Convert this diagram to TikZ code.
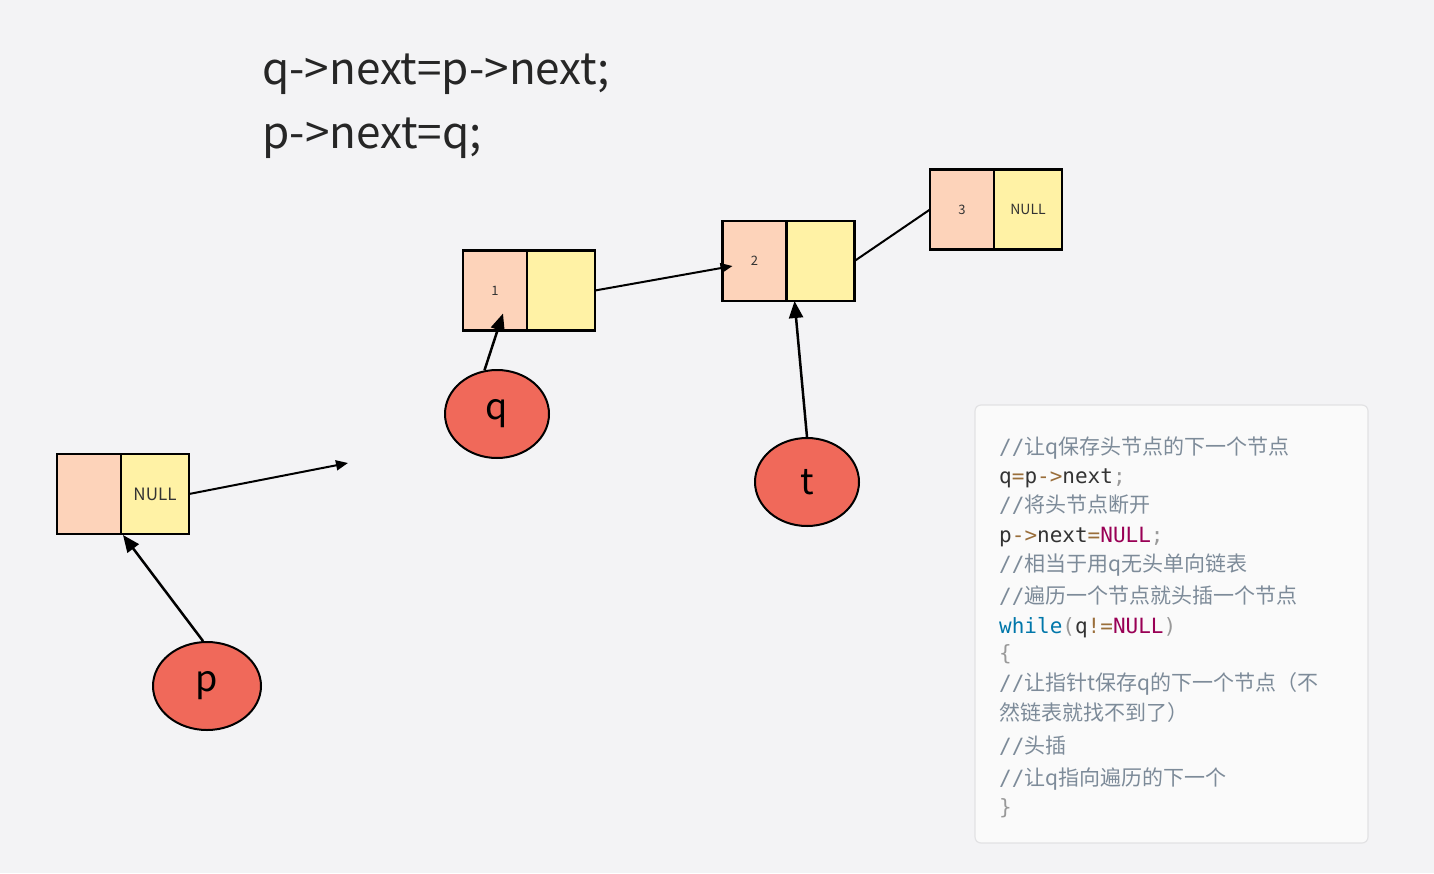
\documentclass[tikz,border=0pt]{standalone}
\usepackage{fontspec}
\setmainfont{Noto Sans CJK SC}
\setmonofont{DejaVu Sans Mono}
\usetikzlibrary{arrows.meta, positioning, shapes.geometric, calc}
\usepackage{xcolor}
\definecolor{fundo}{HTML}{F3F3F5}
\definecolor{pessego}{HTML}{FDD3BA}
\definecolor{amarelo}{HTML}{FFF2A5}
\definecolor{vermelho}{HTML}{F0695A}
\definecolor{caixaCod}{HTML}{FAFAFA}
\definecolor{bordaCod}{HTML}{E2E2E4}
\definecolor{comentario}{HTML}{7D8B99}
\definecolor{operador}{HTML}{9A6E3A}
\definecolor{constante}{HTML}{990055}
\definecolor{palavra}{HTML}{0077AA}
\definecolor{pontuacao}{HTML}{999999}
\definecolor{texto}{HTML}{333333}
\newcommand{\coment}[1]{{\color{comentario}\ttfamily //\rmfamily #1}}
\newcommand{\op}[1]{{\color{operador}#1}}
\newcommand{\cte}[1]{{\color{constante}#1}}
\newcommand{\pont}[1]{{\color{pontuacao}#1}}

\begin{document}
\begin{tikzpicture}[
    x=1pt, y=-1pt,
    celula/.style={
        draw=black,
        line width=2.5pt,
        minimum height=80,
        outer sep=0pt,
        inner sep=0pt,
        text=texto,
        font=\fontsize{13}{15}\selectfont
    },
    celulaD/.style={celula, fill=pessego, minimum width=64},
    celulaP/.style={celula, fill=amarelo, minimum width=68},
    circulo/.style={
        ellipse,
        draw=black,
        line width=2pt,
        fill=vermelho,
        minimum width=104,
        minimum height=88,
        font=\fontsize{36}{40}\selectfont
    },
    seta/.style={
        -{Triangle[length=12pt,width=10pt]},
        line width=2pt
    },
    ponteiro/.style={
        -{Triangle[length=17pt,width=14pt]},
        line width=2.5pt
    },
    linha/.style={
        anchor=base west,
        inner sep=0pt,
        text=texto,
        font=\ttfamily\fontsize{21}{24}\selectfont
    }
]

\fill[fundo] (0,0) rectangle (1434,873);
\useasboundingbox (0,0) rectangle (1434,873);

% =================================================
% CODIGO NO TOPO
% =================================================

\node[anchor=base west, inner sep=0pt, text=black!85,
    font=\fontsize{44}{50}\selectfont] (titulo1) at (262,84)
{q->next=p->next;};

\node[anchor=base west, inner sep=0pt, text=black!85,
    font=\fontsize{44}{50}\selectfont] (titulo2) at (262,148)
{p->next=q;};

% =================================================
% LISTA
% =================================================

\node[celulaD] (d0) at (89,494) {};
\node[celulaP, right=0pt of d0, font=\fontsize{17}{20}\selectfont] (p0) {NULL};

\node[celulaD] (d1) at (495,290.5) {1};
\node[celulaP, right=0pt of d1] (p1) {};

\node[celulaD] (d2) at (754.5,261) {2};
\node[celulaP, right=0pt of d2] (p2) {};

\node[celulaD] (d3) at (962,209.5) {3};
\node[celulaP, right=0pt of d3, font=\fontsize{14}{16}\selectfont] (p3) {NULL};

\coordinate (fim0) at (348,463);

\draw[seta] (p0.east) -- (fim0);
\draw[seta] (p1.east) -- ($(d2.west)+(10,5)$);
\draw[line width=2pt] (p2.east) -- (d3.west);

% =================================================
% PONTEIROS
% =================================================

\node[circulo] (q) at (497,414) {q};
\node[circulo] (t) at (807,482) {t};
\node[circulo, minimum width=108] (p) at (207,686) {p};

\draw[ponteiro] (q.106) -- ($(d1.south)+(8,-17)$);
\draw[ponteiro] (t.north) -- ($(p2.south west)+(8,0)$);
\draw[ponteiro] (p.95) -- ($(p0.south west)+(2,1)$);

% =================================================
% CAIXA DE CODIGO
% =================================================

\node[draw=bordaCod, fill=caixaCod, line width=1.2pt, rounded corners=6pt,
    minimum width=393, minimum height=438] (codigo) at (1171.5,624) {};

\node[linha] (l1) at (999,454) {\coment{让q保存头节点的下一个节点}};
\node[linha] (l2) at (999,483) {q\op{=}p\op{->}next\pont{;}};
\node[linha] (l3) at (999,512) {\coment{将头节点断开}};
\node[linha] (l4) at (999,542) {p\op{->}next\op{=}\cte{NULL}\pont{;}};
\node[linha] (l5) at (999,571) {\coment{相当于用q无头单向链表}};
\node[linha] (l6) at (999,603) {\coment{遍历一个节点就头插一个节点}};
\node[linha] (l7) at (999,633) {{\color{palavra}while}\pont{(}q\op{!=}\cte{NULL}\pont{)}};
\node[linha] (l8) at (999,660) {\pont{\{}};
\node[linha] (l9) at (999,690) {\coment{让指针t保存q的下一个节点（不}};
\node[linha] (l10) at (999,720) {{\color{comentario}\rmfamily 然链表就找不到了）}};
\node[linha] (l11) at (999,753) {\coment{头插}};
\node[linha] (l12) at (999,785) {\coment{让q指向遍历的下一个}};
\node[linha] (l13) at (999,814) {\pont{\}}};

\end{tikzpicture}
\end{document}
